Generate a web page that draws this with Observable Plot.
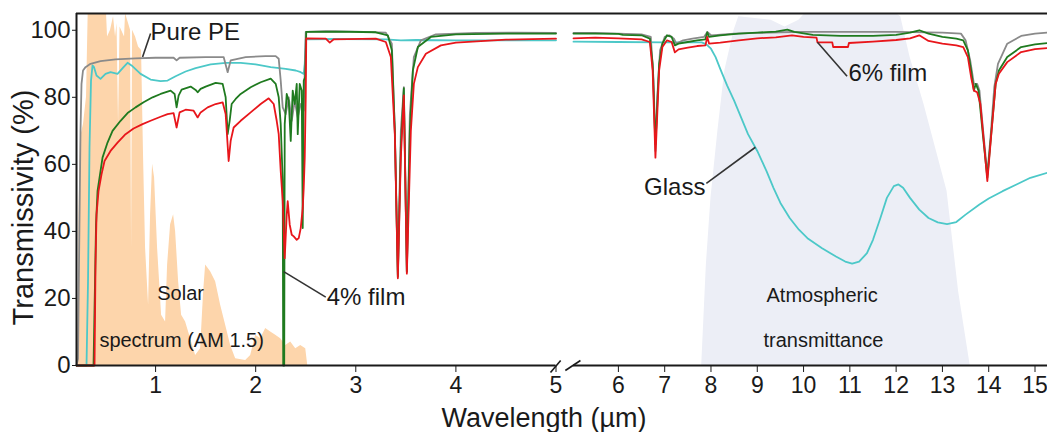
<!DOCTYPE html>
<html><head><meta charset="utf-8">
<script src="https://cdn.jsdelivr.net/npm/d3@7"></script>
<script src="https://cdn.jsdelivr.net/npm/@observablehq/plot@0.6"></script>
<style>html,body{margin:0;padding:0;background:#fff}svg{display:block}</style>
</head><body><div id="chart"></div>
<script>
// ---- data (wavelength µm, transmissivity %) ----
const xTicks = [1,2,3,4,5,6,7,8,9,10,11,12,13,14,15];
const yTicks = [0,20,40,60,80,100];
const xDomain = [0.21, 5.0, 5.03, 15.27];   // broken axis: 0.21–5 | 5.03–15.27
const yDomain = [0, 105];

const solarSpectrum = [[0.225,0],[0.235,45],[0.25,68],[0.28,72],[0.31,80],[0.33,110],[0.35,130],[0.40,150],[0.45,160],[0.48,140],[0.5,112],[0.52,98],[0.55,100],[0.58,104],[0.6,98],[0.615,102],[0.63,72],[0.645,101],[0.69,98],[0.7,105],[0.75,100],[0.76,35],[0.77,100],[0.8,98],[0.83,95],[0.86,94],[0.88,62],[0.9,35],[0.93,18],[0.95,45],[0.97,60],[0.99,56],[1.02,35],[1.06,15],[1.1,13],[1.12,30],[1.15,42],[1.18,45],[1.2,40],[1.23,25],[1.26,15],[1.3,13],[1.35,8],[1.4,3],[1.45,5],[1.48,22],[1.5,30],[1.55,28],[1.6,25],[1.65,18],[1.7,12],[1.75,6],[1.8,2],[1.9,1.5],[1.95,3],[2.0,9],[2.05,8],[2.1,11],[2.15,10],[2.2,9],[2.25,8],[2.3,6],[2.35,7],[2.4,5],[2.45,6],[2.5,5],[2.52,0]];

const atmTransmittance = [[7.8,0],[7.9,30],[8.0,50],[8.15,70],[8.3,88],[8.5,100],[8.6,104],[9.3,103],[9.6,101],[9.9,103],[10.1,106],[11.9,106],[12.1,104],[12.3,92],[12.6,78],[13.1,52],[13.35,22],[13.6,0]];

const purePE = [[0.21,0],[0.225,2],[0.235,30],[0.25,70],[0.26,84],[0.275,88],[0.3,89],[0.35,90],[0.45,90.8],[0.6,91.3],[0.8,91.6],[1.0,91.8],[1.18,91.8],[1.21,91],[1.24,91.8],[1.5,92],[1.68,92],[1.72,87.5],[1.75,91],[1.9,92],[2.1,92.3],[2.2,92.3],[2.23,91.5],[2.25,85],[2.27,77],[2.3,75],[2.33,80],[2.36,73],[2.39,79],[2.42,74],[2.45,78],[2.48,76],[2.49,88],[2.5,99.5],[2.7,99.7],[3.0,99.6],[3.3,99.3],[3.36,96],[3.39,70],[3.42,27],[3.45,70],[3.48,83],[3.51,28],[3.54,75],[3.58,92],[3.65,97],[3.8,98.8],[4.2,99.2],[4.6,99.3],[5.0,99.2],
  [5.03,99.2],[5.5,99.2],[6.0,99],[6.5,98.8],[6.7,98],[6.76,85],[6.8,64],[6.84,80],[6.9,94],[7.0,98],[7.1,98.5],[7.2,97.5],[7.25,96],[7.4,97],[7.6,97.5],[7.85,98],[7.92,99.5],[8.0,98.5],[8.5,99],[9.0,99.2],[9.5,99.4],[10,99.5],[11,99.5],[12,99.5],[13,99.3],[13.4,99],[13.5,97],[13.6,91],[13.68,84],[13.75,84],[13.8,82],[13.88,70],[13.97,57],[14.05,70],[14.12,83],[14.2,90],[14.4,96],[14.7,98.3],[15.0,99],[15.27,99.3]];

const glass = [[0.21,0],[0.31,0],[0.325,25],[0.34,65],[0.355,85],[0.37,89.5],[0.385,89],[0.41,86.5],[0.45,85.5],[0.5,87],[0.55,87.5],[0.62,87],[0.68,89],[0.72,90.3],[0.76,89.5],[0.85,87],[0.95,85.3],[1.05,84.8],[1.12,85],[1.2,86.3],[1.3,87.7],[1.4,88.7],[1.55,89.8],[1.7,90.3],[1.85,90.3],[2.0,89.8],[2.15,89],[2.3,88.5],[2.4,88],[2.45,87.5],[2.48,87],[2.49,90],[2.5,97.3],[2.8,97.4],[3.3,97.3],[3.45,97],[3.6,97.1],[4.0,97],[4.5,97],[5.0,97],
  [5.03,96.6],[6.0,96.5],[7.0,96.4],[7.8,96.4],[7.9,95.8],[8.0,94.5],[8.1,92],[8.2,88.5],[8.35,83.5],[8.5,79],[8.65,74],[8.8,69],[9.0,64],[9.2,58],[9.35,53],[9.5,48.5],[9.7,44],[9.9,40.5],[10.1,37.8],[10.4,35],[10.7,32.5],[10.9,31],[11.05,30.4],[11.2,31],[11.37,33.5],[11.5,37.5],[11.66,44],[11.8,50],[11.95,53.5],[12.05,54],[12.15,53],[12.3,50],[12.5,46.5],[12.7,44],[12.9,42.7],[13.1,42.2],[13.3,42.8],[13.5,45],[13.8,48],[14.0,49.8],[14.3,52],[14.6,54],[14.9,56],[15.27,57.5]];

const film4 = [[0.21,0],[0.38,0],[0.395,25],[0.405,42],[0.42,52],[0.45,58],[0.47,62],[0.52,66.5],[0.57,70],[0.65,73],[0.72,75.3],[0.8,77],[0.88,78.5],[0.97,80],[1.05,81],[1.15,82],[1.19,81],[1.21,77],[1.23,80.5],[1.26,82.3],[1.35,83.2],[1.4,82.2],[1.42,81.5],[1.45,82.5],[1.5,83.2],[1.6,84.3],[1.67,84],[1.7,80],[1.72,69],[1.74,73],[1.76,78],[1.8,79.5],[1.85,81],[1.95,83],[2.05,84.5],[2.15,85.6],[2.2,84],[2.23,80],[2.25,72],[2.27,55],[2.275,0],[2.285,0],[2.29,72],[2.31,81],[2.33,79],[2.35,67],[2.37,82],[2.39,78],[2.41,84],[2.42,69],[2.44,84],[2.46,82],[2.47,41],[2.48,85],[2.495,86],[2.505,99.5],[2.8,99.6],[3.2,99.4],[3.32,98.5],[3.36,94],[3.39,70],[3.42,26.5],[3.45,65],[3.48,82.7],[3.51,28],[3.54,70],[3.57,88],[3.62,95],[3.75,98],[4.0,98.8],[4.5,99],[5.0,99],
  [5.03,99],[5.5,99],[6.0,98.9],[6.1,98.6],[6.5,98.5],[6.68,97.5],[6.74,90],[6.8,66],[6.84,78],[6.88,90],[6.95,96],[7.05,98.5],[7.15,98],[7.22,95.5],[7.3,96],[7.5,96.5],[7.7,97],[7.88,97.3],[7.92,99.4],[7.96,98],[8.2,98.5],[8.6,99],[9.0,99.3],[9.4,99.6],[9.65,100.2],[9.8,99.5],[10.2,98.6],[10.8,98.3],[11.5,98.3],[12.0,98.6],[12.3,99.3],[12.5,100],[12.7,99],[13.0,98],[13.3,97.5],[13.45,97],[13.55,94],[13.62,88],[13.68,82],[13.72,84],[13.78,82],[13.88,68],[13.97,56],[14.06,70],[14.15,84],[14.22,88],[14.4,92],[14.7,95],[15.0,95.8],[15.27,96.2]];

const film6 = [[0.21,0],[0.39,0],[0.40,30],[0.41,45],[0.43,52],[0.46,57],[0.49,61],[0.55,64],[0.62,66.5],[0.7,69],[0.78,70.7],[0.87,72],[0.95,73],[1.05,74.2],[1.12,75],[1.18,75.3],[1.21,71],[1.24,75.5],[1.3,76.3],[1.38,76],[1.42,74],[1.45,75.5],[1.52,77],[1.6,78],[1.67,78.5],[1.7,75],[1.73,61],[1.75,67],[1.78,71],[1.85,73],[1.95,75.5],[2.05,78],[2.13,79.7],[2.18,78],[2.21,73],[2.23,69],[2.25,58],[2.27,49],[2.29,32],[2.31,45],[2.32,49],[2.34,42],[2.36,39],[2.38,38.5],[2.41,37.5],[2.43,38],[2.45,41],[2.47,47],[2.48,53],[2.49,62],[2.5,80],[2.505,97.6],[2.7,97.5],[2.74,96.3],[2.78,97.3],[3.2,97.5],[3.3,96.5],[3.35,92],[3.39,69],[3.42,26],[3.45,62],[3.48,80.6],[3.51,27.4],[3.55,70],[3.58,84],[3.62,89],[3.7,93],[3.85,95.5],[4.0,96.3],[4.5,97.2],[5.0,97.5],
  [5.03,97.6],[5.5,97.8],[6.0,97.6],[6.5,97.3],[6.68,96.5],[6.74,88],[6.8,62],[6.84,75],[6.88,88],[6.95,95],[7.05,97],[7.15,96.5],[7.22,93.4],[7.3,94.3],[7.5,94.8],[7.7,95.3],[7.88,95.5],[7.92,98],[7.96,96],[8.2,96.3],[8.6,97],[9.0,97.6],[9.4,97.9],[9.75,98.5],[10.0,98],[10.28,97.8],[10.3,96.4],[10.62,96.4],[10.64,95],[10.96,95],[10.98,96.2],[11.5,96.6],[12.0,97.1],[12.3,97.6],[12.5,98.5],[12.7,96.8],[13.0,96],[13.3,95.5],[13.45,95],[13.55,92],[13.62,86],[13.68,82],[13.75,81.5],[13.82,78],[13.9,66],[13.97,55],[14.05,68],[14.15,84],[14.22,87],[14.4,90.5],[14.7,93.5],[15.0,94.4],[15.27,94.7]];

const lineLabels = [
  {text: "Pure PE", x: 0.95, y: 99.4, anchor: "start"},
  {text: "4% film", x: 2.71, y: 20.3, anchor: "start"},
  {text: "Glass", x: 7.88, y: 53.1, anchor: "end"},
  {text: "6% film", x: 10.97, y: 87.2, anchor: "start"}
];
const leaders = [
  {x1: 0.95, y1: 99.0, x2: 0.87, y2: 92.0},
  {x1: 2.28, y1: 28.0, x2: 2.70, y2: 20.4},
  {x1: 7.90, y1: 54.3, x2: 8.96, y2: 65.1},
  {x1: 10.30, y1: 96.4, x2: 10.94, y2: 86.3}
];
const bandLabels = [
  {text: "Solar", x: 1.25, y: 21.5},
  {text: "spectrum (AM 1.5)", x: 1.26, y: 7.5},
  {text: "Atmospheric", x: 10.4, y: 21},
  {text: "transmittance", x: 10.43, y: 7.5}
];
const axisSegments = [{x1: 0.21, x2: 5.0}, {x1: 5.03, x2: 15.27}];
const breakMarks = [
  {x1: 4.945, y1: -2.1, x2: 5.008, y2: 1.5},
  {x1: 5.016, y1: -1.5, x2: 5.18, y2: 1.5}
];

// ---- build ----
const seg = (arr) => arr.map(([x, y]) => ({x, y, seg: x <= 5.0 ? "L" : "R"}));
const lineMark = (arr, color) => Plot.line(seg(arr), {x: "x", y: "y", z: "seg", stroke: color, strokeWidth: 1.8, strokeLinejoin: "round"});
const ink = "#1a1a1a";

const chart = Plot.plot({
  width: 1047, height: 432,
  marginLeft: 76, marginRight: 0, marginTop: 13, marginBottom: 67,
  style: {fontFamily: "'Liberation Sans', Arial, sans-serif", background: "#fff", color: ink},
  x: {type: "linear", domain: xDomain, range: [76, 555.5, 573, 1047]},
  y: {domain: yDomain},
  marks: [
    Plot.areaY(atmTransmittance, {x: d => d[0], y: d => d[1], fill: "#eceef6", clip: true}),
    Plot.areaY(solarSpectrum, {x: d => d[0], y: d => d[1], fill: "#fdd5ab", clip: true}),
    lineMark(glass, "#4cc8c8"),
    lineMark(purePE, "#8a8a8a"),
    lineMark(film4, "#1f7a1f"),
    lineMark(film6, "#e8161b"),
    Plot.ruleY([yDomain[1]], {stroke: ink, strokeWidth: 2}),
    Plot.ruleX([xDomain[0]], {stroke: ink, strokeWidth: 2}),
    Plot.ruleY(axisSegments, {x1: "x1", x2: "x2", y: 0, stroke: ink, strokeWidth: 2}),
    Plot.link(breakMarks, {x1: "x1", y1: "y1", x2: "x2", y2: "y2", stroke: ink, strokeWidth: 1.6}),
    Plot.axisX({ticks: xTicks, tickSize: 7, tickPadding: 4, fontSize: 23, label: null, stroke: ink, fill: ink}),
    Plot.axisY({ticks: yTicks, tickSize: 4, tickPadding: 2, fontSize: 24, label: null, stroke: ink, fill: ink}),
    Plot.link(leaders, {x1: "x1", y1: "y1", x2: "x2", y2: "y2", stroke: "#333", strokeWidth: 1.6}),
    Plot.text(lineLabels.filter(d => d.anchor === "start"), {x: "x", y: "y", text: "text", textAnchor: "start", fontSize: 24, fill: ink}),
    Plot.text(lineLabels.filter(d => d.anchor === "end"), {x: "x", y: "y", text: "text", textAnchor: "end", fontSize: 24, fill: ink}),
    Plot.text(bandLabels, {x: "x", y: "y", text: "text", fontSize: 20, fill: ink}),
    Plot.text(["Transmissivity (%)"], {text: d => d, frameAnchor: "left", textAnchor: "middle", lineAnchor: "middle", rotate: -90, dx: -53, dy: 18, fontSize: 29, fill: ink}),
    Plot.text(["Wavelength (µm)"], {text: d => d, frameAnchor: "bottom", textAnchor: "middle", lineAnchor: "middle", dx: -18, dy: 53, fontSize: 27, fill: ink})
  ]
});
document.getElementById("chart").appendChild(chart);
</script>
</body></html>
